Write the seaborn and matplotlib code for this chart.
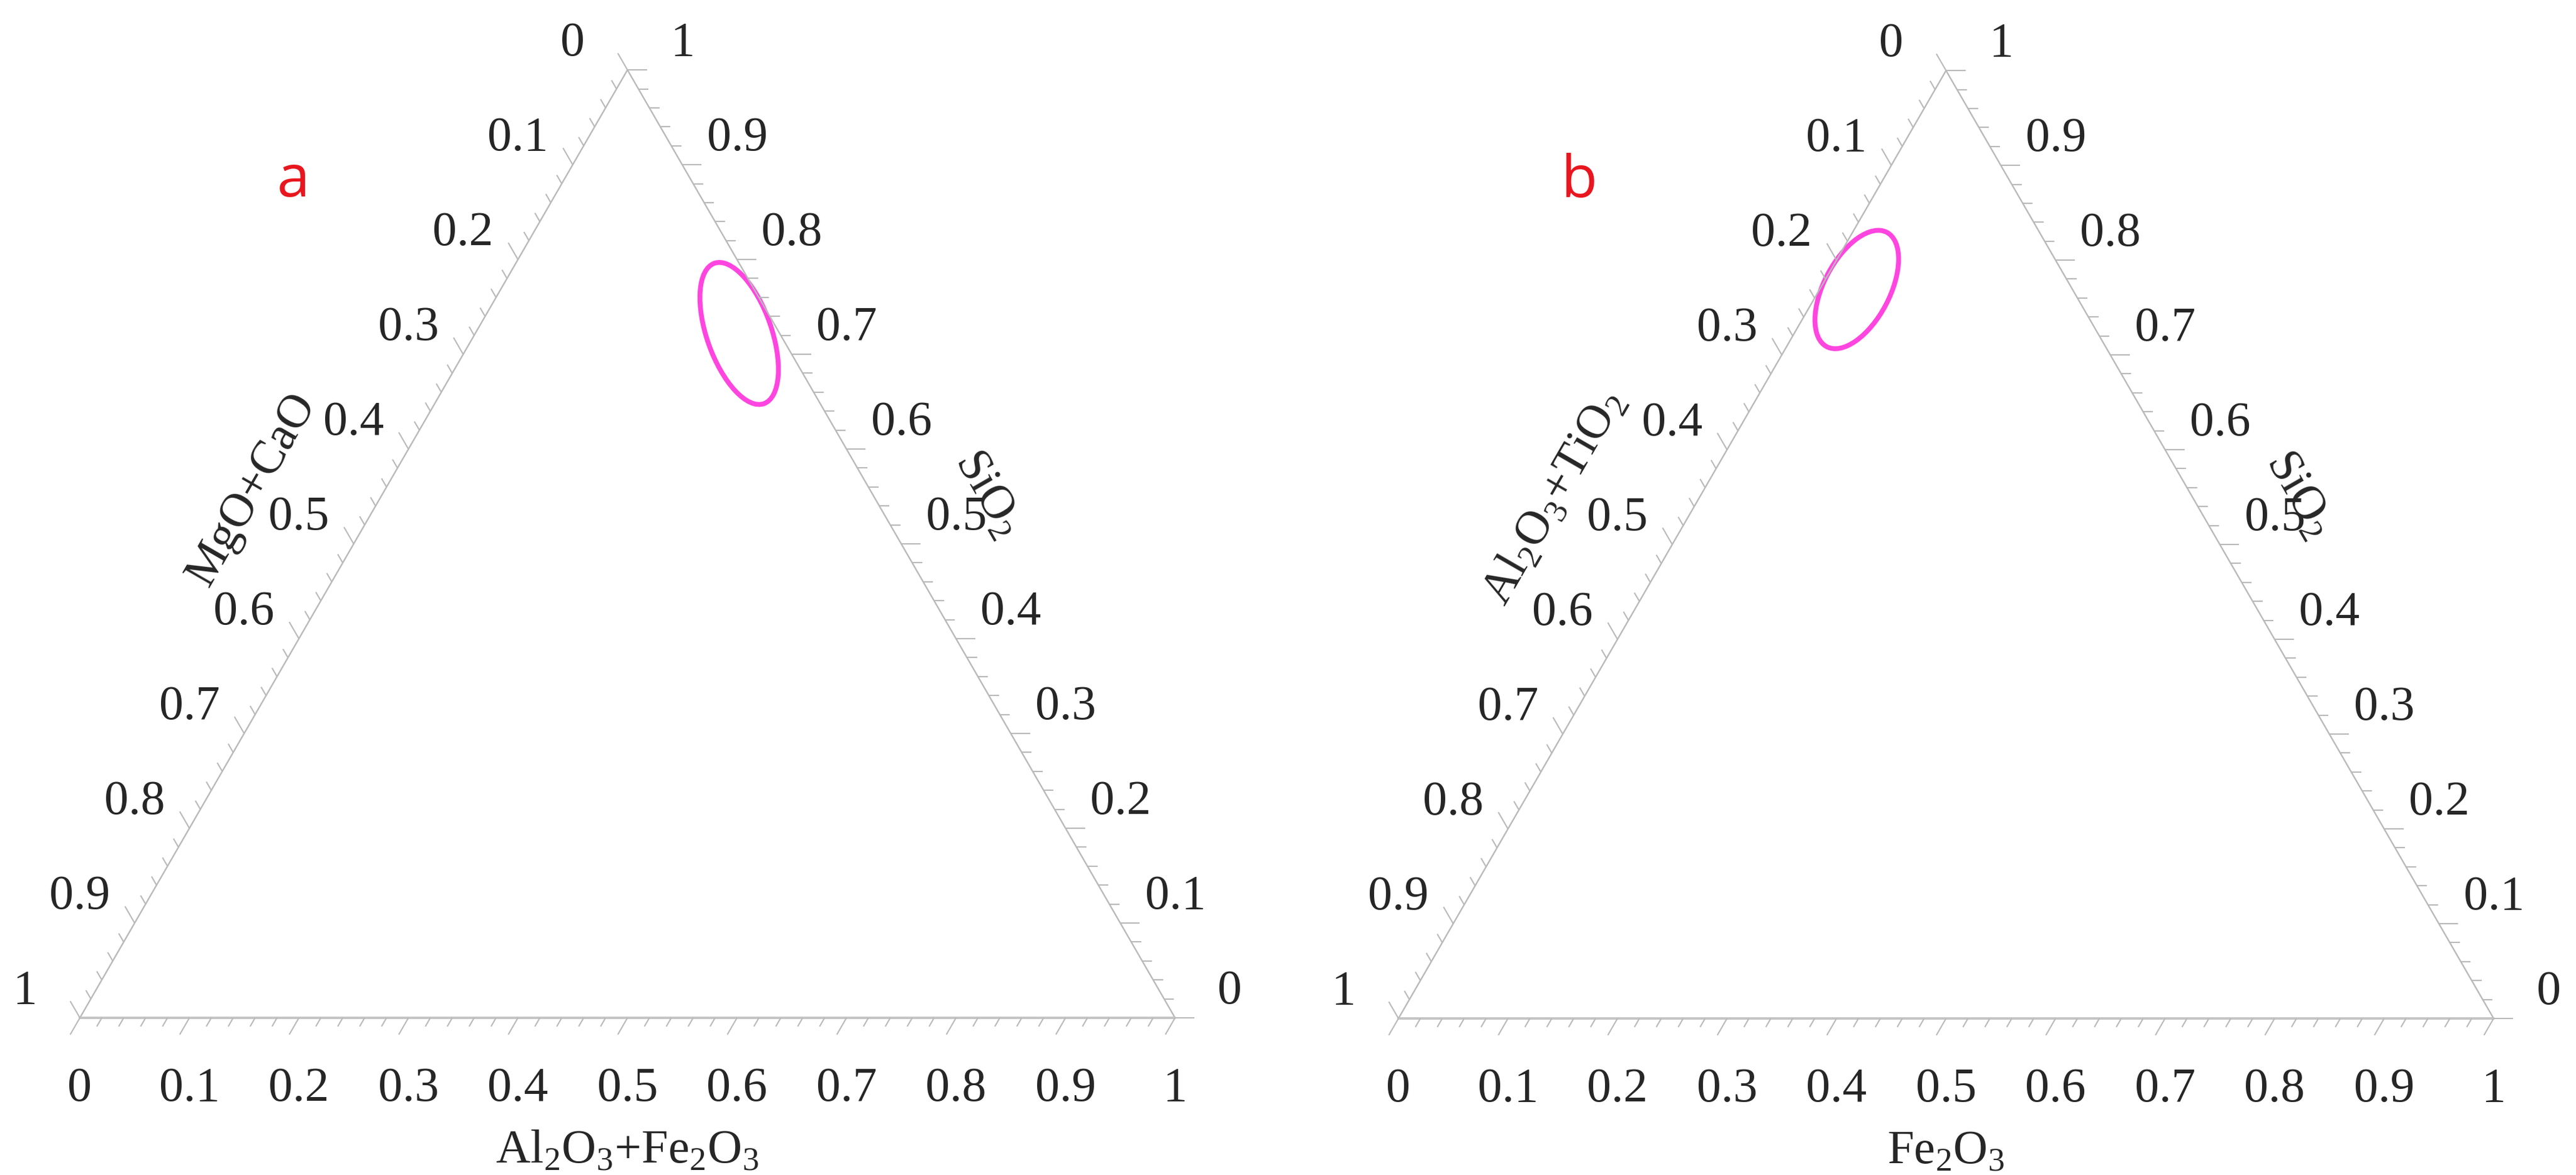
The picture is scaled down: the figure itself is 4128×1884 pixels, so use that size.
import numpy as np
import pandas as pd
import seaborn as sns
import matplotlib.pyplot as plt
from matplotlib.collections import LineCollection
from matplotlib.patches import Ellipse


#%% data
tick_values = [0.0, 0.1, 0.2, 0.3, 0.4, 0.5, 0.6, 0.7, 0.8, 0.9, 1.0]
tick_labels = ['0', '0.1', '0.2', '0.3', '0.4', '0.5', '0.6', '0.7', '0.8', '0.9', '1']
minor_values = [round(i * 0.02, 2) for i in range(51)]

panel_letters = ['a', 'b']
bottom_titles = [r'Al$_\mathregular{2}$O$_\mathregular{3}$+Fe$_\mathregular{2}$O$_\mathregular{3}$',
                 r'Fe$_\mathregular{2}$O$_\mathregular{3}$']
right_titles = [r'SiO$_\mathregular{2}$', r'SiO$_\mathregular{2}$']
left_titles = ['MgO+CaO', r'Al$_\mathregular{2}$O$_\mathregular{3}$+TiO$_\mathregular{2}$']

# ellipse centre as composition: SiO2 (apex) and the bottom-right component
ellipse_sio2 = [0.722, 0.769]
ellipse_right = [0.241, 0.034]
ellipse_major = [0.136, 0.118]
ellipse_minor = [0.059, 0.060]
ellipse_angle = [109.4, 62.3]

#%% layout (pixels)
FIG_W, FIG_H = 4128, 1884
U = 1755.0                       # pixels per unit side
panel_bl = [(128, 1632), (2241, 1633)]
panel_span = [(0, 2064), (2064, 4128)]
EDGE = '#b9b9b9'
PINK = '#ff45df'
R3 = np.sqrt(3) / 2


def tern_xy(right, top):
    return right + top / 2.0, top * R3


def px(v):
    return v / U


def draw_panel(ax, k):
    # triangle edges
    edge_df = pd.DataFrame({'x': [0.0, 0.5, 1.0], 'y': [0.0, R3, 0.0]})
    sns.lineplot(data=edge_df, x='x', y='y', sort=False, estimator=None,
                 color=EDGE, lw=1.7, ax=ax, legend=False)
    sns.lineplot(data=pd.DataFrame({'x': [0.0, 1.0], 'y': [0.0, 0.0]}), x='x', y='y',
                 sort=False, estimator=None, color='#c4c4c4', lw=2.8, ax=ax, legend=False)

    segs = []
    for v in minor_values:
        major = abs(v * 10 - round(v * 10)) < 1e-6
        L = px(31 if major else 16)
        # bottom
        bx, by = v, 0.0
        segs.append([(bx, by), (bx - 0.5 * L, by - R3 * L)])
        # right (SiO2)
        rx, ry = tern_xy(1 - v, v)
        segs.append([(rx, ry), (rx + L, ry)])
        # left
        lx, ly = tern_xy(0, 1 - v)
        segs.append([(lx, ly), (lx - 0.5 * L, ly + R3 * L)])
    ax.add_collection(LineCollection(segs, colors=EDGE, linewidths=1.5))

    for v, lab in zip(tick_values, tick_labels):
        ax.text(v, -px(133), lab, ha='center', va='baseline', fontsize=56)
        rx, ry = tern_xy(1 - v, v)
        ax.text(rx + px(88), ry + px(23), lab, ha='center', va='baseline', fontsize=56)
        lx, ly = tern_xy(0, 1 - v)
        ax.text(lx - px(88), ly + px(23), lab, ha='center', va='baseline', fontsize=56)

    ax.text(0.5, -px(232), bottom_titles[k], ha='center', va='baseline', fontsize=55)
    if k == 0:
        ax.text(0.157, 0.483, left_titles[k], rotation=60, rotation_mode='anchor',
                ha='center', va='center', fontsize=55)
        ax.text(0.829, 0.479, right_titles[k], rotation=-60, rotation_mode='anchor',
                ha='center', va='center', fontsize=55)
        ax.text(0.195, 0.7504, panel_letters[k], color='#e8161e', ha='center',
                va='baseline', fontsize=68, family=['Open Sans', 'DejaVu Sans'])
    else:
        ax.text(0.142, 0.476, left_titles[k], rotation=60, rotation_mode='anchor',
                ha='center', va='center', fontsize=55)
        ax.text(0.8225, 0.479, right_titles[k], rotation=-60, rotation_mode='anchor',
                ha='center', va='center', fontsize=55)
        ax.text(0.165, 0.7504, panel_letters[k], color='#e8161e', ha='center',
                va='baseline', fontsize=68, family=['Open Sans', 'DejaVu Sans'])

    cx, cy = tern_xy(ellipse_right[k], ellipse_sio2[k])
    ax.add_patch(Ellipse((cx, cy), ellipse_major[k], ellipse_minor[k],
                         angle=ellipse_angle[k], fill=False, edgecolor=PINK, lw=5.6))

    blx, bly = panel_bl[k]
    left, right = panel_span[k]
    ax.set_xlim((left - blx) / U, (right - blx) / U)
    ax.set_ylim((bly - FIG_H) / U, bly / U)
    ax.axis('off')


if __name__ == "__main__":
    sns.set_theme(style='white')
    plt.rcParams['font.family'] = ['Liberation Serif', 'DejaVu Serif']
    plt.rcParams['mathtext.fontset'] = 'custom'
    plt.rcParams['mathtext.rm'] = 'Liberation Serif'

    fig = plt.figure(figsize=(FIG_W / 100, FIG_H / 100), dpi=100)
    fig.patch.set_facecolor('white')
    for k in range(2):
        left, right = panel_span[k]
        ax = fig.add_axes([left / FIG_W, 0, (right - left) / FIG_W, 1])
        draw_panel(ax, k)

    fig.savefig('out.png', dpi=100, facecolor='white')
